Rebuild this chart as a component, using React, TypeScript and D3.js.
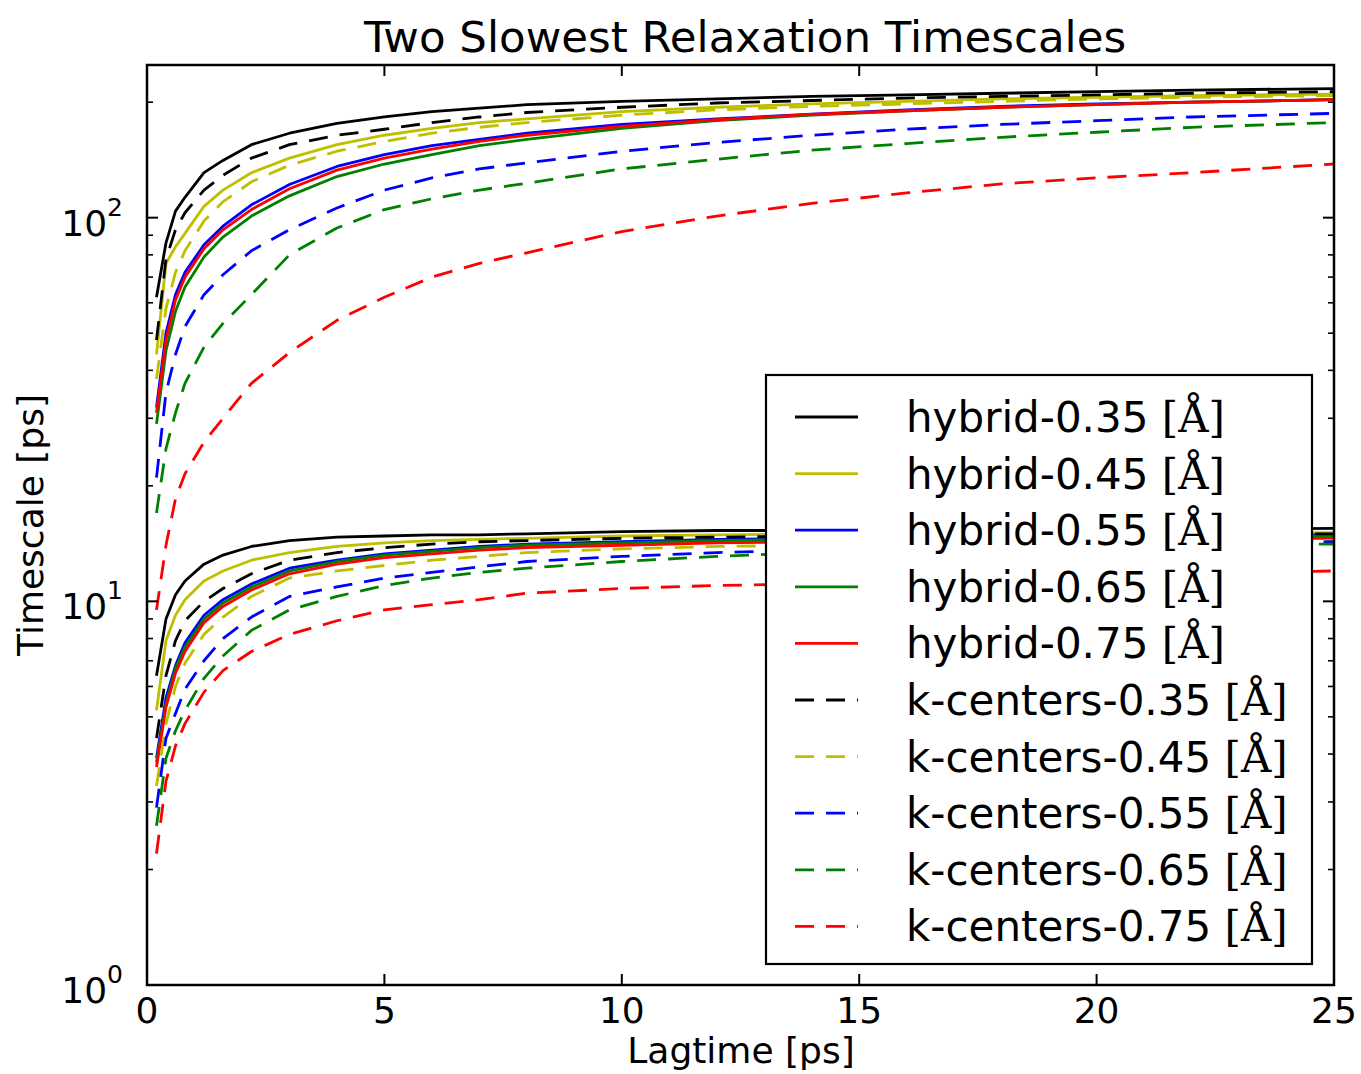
import React from 'react';
import * as d3 from 'd3';

// lagtimes in ps
const lagtimes = [0.2, 0.4, 0.6, 0.8, 1.2, 1.6, 2.2, 3, 4, 5, 6, 7, 8, 10, 12, 14, 16, 18, 20, 22, 25];

// slowest timescale (ps)
const hyb035_1 = [62, 86, 104, 113, 131, 141, 155, 166, 176, 183, 189, 193, 197, 201, 204, 207, 209, 211, 213, 215, 217];
const hyb045_1 = [44, 76, 84, 91, 107, 118, 131, 143, 155, 164, 171, 177, 181, 189, 194, 198, 201, 204, 206, 208, 210];
const hyb055_1 = [32, 50, 63, 72, 85, 95, 108, 122, 136, 146, 154, 160, 166, 175, 181, 186, 191, 195, 198, 200, 203];
const hyb065_1 = [29, 45, 57, 66, 79, 89, 101, 114, 128, 138, 146, 154, 160, 171, 179, 185, 190, 194, 197, 200, 203];
const hyb075_1 = [31, 48, 61, 70, 83, 93, 105, 119, 133, 143, 151, 158, 164, 173, 180, 186, 190, 194, 197, 200, 203];
const kc035_1 = [48, 78, 93, 103, 118, 129, 143, 155, 164, 170, 177, 183, 188, 194, 199, 202, 205, 207, 209, 211, 213];
const kc045_1 = [38, 58, 72, 82, 98, 110, 124, 137, 149, 158, 166, 172, 177, 185, 191, 195, 198, 201, 204, 206, 208];
const kc055_1 = [21, 35, 44, 52, 63, 71, 82, 93, 106, 118, 127, 134, 139, 149, 157, 164, 170, 175, 179, 183, 187];
const kc065_1 = [17, 25, 31, 37, 46, 53, 63, 80, 94, 105, 112, 118, 123, 134, 142, 150, 156, 162, 167, 172, 177];
const kc075_1 = [9.5, 14, 18.5, 21.5, 26, 30, 37, 44.5, 54, 62, 70, 76, 81, 92, 101, 109, 116, 122.5, 127, 131, 138];

// second slowest timescale (ps)
const hyb035_2 = [6.4, 9.0, 10.4, 11.3, 12.5, 13.2, 13.9, 14.4, 14.7, 14.8, 14.9, 14.9, 15.0, 15.2, 15.3, 15.3, 15.3, 15.3, 15.3, 15.4, 15.5];
const hyb045_2 = [5.2, 7.9, 9.2, 10.1, 11.3, 12.0, 12.8, 13.4, 13.9, 14.2, 14.4, 14.5, 14.6, 14.8, 14.9, 15.0, 15.0, 15.0, 15.1, 15.1, 15.1];
const hyb055_2 = [3.9, 5.6, 6.8, 7.8, 9.2, 10.1, 11.1, 12.2, 12.8, 13.3, 13.6, 13.9, 14.1, 14.3, 14.5, 14.6, 14.7, 14.8, 14.8, 14.9, 14.9];
const hyb065_2 = [3.8, 5.4, 6.7, 7.6, 9.0, 9.9, 10.9, 12.0, 12.7, 13.2, 13.5, 13.8, 14.0, 14.2, 14.4, 14.5, 14.6, 14.6, 14.7, 14.7, 14.8];
const hyb075_2 = [3.7, 5.3, 6.5, 7.4, 8.8, 9.7, 10.7, 11.8, 12.5, 13.0, 13.3, 13.6, 13.8, 14.0, 14.2, 14.3, 14.4, 14.5, 14.5, 14.6, 14.6];
const kc035_2 = [4.4, 6.4, 7.9, 8.9, 10.0, 10.8, 11.8, 12.8, 13.4, 13.8, 14.1, 14.3, 14.4, 14.6, 14.7, 14.8, 14.9, 14.9, 15.0, 15.0, 15.0];
const kc045_2 = [3.3, 4.8, 6.0, 6.9, 8.2, 9.1, 10.3, 11.5, 12.0, 12.4, 12.8, 13.1, 13.4, 13.7, 13.9, 14.0, 14.1, 14.2, 14.3, 14.3, 14.4];
const kc055_2 = [2.9, 4.4, 5.1, 5.9, 7.0, 8.0, 9.1, 10.3, 10.9, 11.5, 11.9, 12.3, 12.7, 13.1, 13.4, 13.6, 13.8, 13.9, 14.0, 14.2, 14.3];
const kc065_2 = [2.6, 3.9, 4.6, 5.2, 6.3, 7.2, 8.4, 9.5, 10.3, 11.0, 11.5, 11.9, 12.2, 12.7, 13.1, 13.4, 13.6, 13.8, 13.9, 14.0, 14.1];
const kc075_2 = [2.2, 3.4, 4.2, 4.8, 5.8, 6.6, 7.4, 8.2, 8.9, 9.5, 9.8, 10.1, 10.5, 10.8, 11.0, 11.1, 11.3, 11.5, 11.6, 11.8, 12.0];

const xTicks = [0, 5, 10, 15, 20, 25];
const yExponents = [0, 1, 2];

const series = [
  { label: 'hybrid-0.35', color: '#000000', dashed: false, slow: hyb035_1, second: hyb035_2 },
  { label: 'hybrid-0.45', color: '#bfbf00', dashed: false, slow: hyb045_1, second: hyb045_2 },
  { label: 'hybrid-0.55', color: '#0000ff', dashed: false, slow: hyb055_1, second: hyb055_2 },
  { label: 'hybrid-0.65', color: '#008000', dashed: false, slow: hyb065_1, second: hyb065_2 },
  { label: 'hybrid-0.75', color: '#ff0000', dashed: false, slow: hyb075_1, second: hyb075_2 },
  { label: 'k-centers-0.35', color: '#000000', dashed: true, slow: kc035_1, second: kc035_2 },
  { label: 'k-centers-0.45', color: '#bfbf00', dashed: true, slow: kc045_1, second: kc045_2 },
  { label: 'k-centers-0.55', color: '#0000ff', dashed: true, slow: kc055_1, second: kc055_2 },
  { label: 'k-centers-0.65', color: '#008000', dashed: true, slow: kc065_1, second: kc065_2 },
  { label: 'k-centers-0.75', color: '#ff0000', dashed: true, slow: kc075_1, second: kc075_2 },
];

export default function App() {
  const width = 1361;
  const height = 1074;
  const left = 147, right = 1334, top = 65, bottom = 985;
  const font = 'DejaVu Sans, sans-serif';

  const x = d3.scaleLinear().domain([0, 25]).range([left, right]);
  const y = d3.scaleLog().domain([1, 250]).range([bottom, top]);
  const line = d3.line<number>().x((d, i) => x(lagtimes[i])).y((d) => y(d));

  const minorY: number[] = [];
  yExponents.forEach((e) => {
    for (let k = 2; k <= 9; k++) {
      const v = k * Math.pow(10, e);
      if (v < 250) minorY.push(v);
    }
  });

  const dash = '19,12';
  const lw = 2.8;

  const legX = 766, legY = 375, legW = 546, legH = 589;
  const rowY = (i: number) => 417 + i * 56.6;

  return (
    <svg width={width} height={height} style={{ position: 'absolute', left: 0, top: 0, background: '#fff' }}>
      <rect x={0} y={0} width={width} height={height} fill="#fff" />
      <text x={745} y={52} textAnchor="middle" fontFamily={font} fontSize={43.5}>
        Two Slowest Relaxation Timescales
      </text>

      {series.map((s, i) => (
        <g key={i}>
          {[s.slow, s.second].map((vals, j) => (
            <path
              key={j}
              d={line(vals) || ''}
              fill="none"
              stroke={s.color}
              strokeWidth={lw}
              strokeLinejoin="round"
              strokeDasharray={s.dashed ? dash : undefined}
            />
          ))}
        </g>
      ))}

      {/* ticks */}
      {xTicks.map((t) => (
        <g key={'xt' + t}>
          <line x1={x(t)} x2={x(t)} y1={bottom} y2={bottom - 11} stroke="#000" strokeWidth={2} />
          <line x1={x(t)} x2={x(t)} y1={top} y2={top + 11} stroke="#000" strokeWidth={2} />
          <text x={x(t)} y={1023} textAnchor="middle" fontFamily={font} fontSize={36}>
            {t}
          </text>
        </g>
      ))}
      {yExponents.map((e) => {
        const yy = y(Math.pow(10, e));
        return (
          <g key={'ye' + e}>
            <line x1={left} x2={left + 11} y1={yy} y2={yy} stroke="#000" strokeWidth={2} />
            <line x1={right} x2={right - 11} y1={yy} y2={yy} stroke="#000" strokeWidth={2} />
            <text x={123} y={yy + 18} textAnchor="end" fontFamily={font} fontSize={36}>
              10
              <tspan dy={-20} fontSize={25}>{e}</tspan>
            </text>
          </g>
        );
      })}
      {minorY.map((v) => (
        <g key={'ym' + v}>
          <line x1={left} x2={left + 6} y1={y(v)} y2={y(v)} stroke="#000" strokeWidth={1.6} />
          <line x1={right} x2={right - 6} y1={y(v)} y2={y(v)} stroke="#000" strokeWidth={1.6} />
        </g>
      ))}

      <rect x={left} y={top} width={right - left} height={bottom - top} fill="none" stroke="#000" strokeWidth={2.5} />

      <text x={741} y={1063} textAnchor="middle" fontFamily={font} fontSize={36}>
        Lagtime [ps]
      </text>
      <text
        transform={`translate(43, ${(top + bottom) / 2}) rotate(-90)`}
        textAnchor="middle"
        fontFamily={font}
        fontSize={36}
      >
        Timescale [ps]
      </text>

      {/* legend */}
      <rect x={legX} y={legY} width={legW} height={legH} fill="#fff" stroke="#000" strokeWidth={2.2} />
      {series.map((s, i) => (
        <g key={'lg' + i}>
          <line
            x1={795}
            x2={858}
            y1={rowY(i)}
            y2={rowY(i)}
            stroke={s.color}
            strokeWidth={lw}
            strokeDasharray={s.dashed ? dash : undefined}
          />
          <text x={906} y={rowY(i) + 15} fontFamily={font} fontSize={42}>
            {s.label + ' '}
            <tspan fontFamily="DejaVu Serif, serif">[Å]</tspan>
          </text>
        </g>
      ))}
    </svg>
  );
}
